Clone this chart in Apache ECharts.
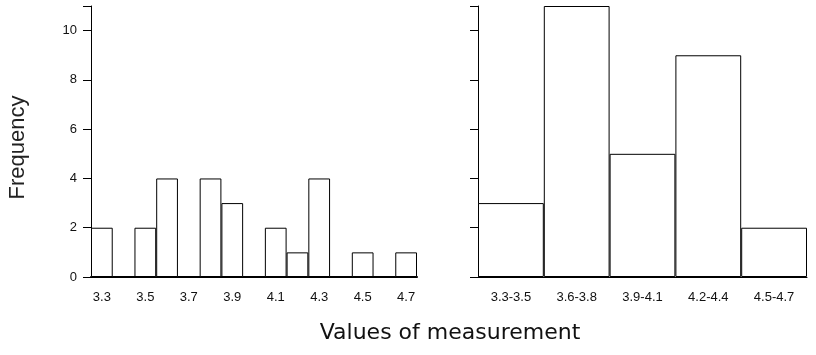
<!DOCTYPE html>
<html>
<head>
<meta charset="utf-8">
<script src="https://cdn.jsdelivr.net/npm/echarts@6/dist/echarts.min.js"></script>
<style>
  html, body { margin: 0; padding: 0; background: #fff; }
  #chart { width: 816px; height: 355px; }
</style>
</head>
<body>
<div id="chart"></div>
<script>
// single values, 3.3 .. 4.7
const fineCats = ['3.3', '3.4', '3.5', '3.6', '3.7', '3.8', '3.9', '4.0', '4.1', '4.2', '4.3', '4.4', '4.5', '4.6', '4.7'];
const fineFreq = [2, 0, 2, 4, 0, 4, 3, 0, 2, 1, 4, 0, 1, 0, 1];
// grouped classes
const groupCats = ['3.3-3.5', '3.6-3.8', '3.9-4.1', '4.2-4.4', '4.5-4.7'];
const groupFreq = [3, 11, 5, 9, 2];
const yTicks = [0, 2, 4, 6, 8, 10];

const chart = echarts.init(document.getElementById('chart'));

const labelFont = { color: '#111', fontSize: 13, fontFamily: 'Liberation Sans, Arial, sans-serif' };
const black = { color: '#000', width: 1 };

const barStyle = {
  color: '#fff',
  borderColor: '#000',
  borderWidth: 1
};

const option = {
  animation: false,
  backgroundColor: '#fff',
  grid: [
    { left: 91, top: 6, width: 326, height: 271 },
    { left: 478, top: 6, width: 329, height: 271 }
  ],
  xAxis: [
    {
      type: 'category',
      gridIndex: 0,
      data: fineCats,
      axisLine: { lineStyle: { color: '#000', width: 2 } },
      axisTick: { alignWithLabel: true, interval: 1, length: 6, lineStyle: black },
      axisLabel: Object.assign({ interval: 1, margin: 14 }, labelFont)
    },
    {
      type: 'category',
      gridIndex: 1,
      data: groupCats,
      axisLine: { lineStyle: black },
      axisTick: { show: false },
      axisLabel: Object.assign({ interval: 0, margin: 14 }, labelFont)
    }
  ],
  yAxis: [
    {
      type: 'value',
      gridIndex: 0,
      min: 0,
      max: 11,
      interval: 2,
      name: 'Frequency',
      nameLocation: 'middle',
      nameGap: 62,
      nameTextStyle: { color: '#222', fontSize: 22, fontFamily: 'Liberation Sans, Arial, sans-serif', fontWeight: 'lighter', padding: [0, 12, 0, 0] },
      splitLine: { show: false },
      axisLine: { show: true, lineStyle: black },
      axisTick: { show: true, length: 8, lineStyle: black },
      axisLabel: Object.assign({
        margin: 14,
        formatter: v => (yTicks.indexOf(v) >= 0 ? String(v) : '')
      }, labelFont)
    },
    {
      type: 'value',
      gridIndex: 1,
      min: 0,
      max: 11,
      interval: 2,
      splitLine: { show: false },
      axisLine: { show: true, lineStyle: black },
      axisTick: { show: true, length: 8, lineStyle: black },
      axisLabel: { show: false }
    }
  ],
  series: [
    {
      type: 'bar',
      xAxisIndex: 0,
      yAxisIndex: 0,
      data: fineFreq,
      barCategoryGap: 0,
      itemStyle: barStyle
    },
    {
      type: 'bar',
      xAxisIndex: 1,
      yAxisIndex: 1,
      data: groupFreq,
      barCategoryGap: 0,
      itemStyle: barStyle
    }
  ],
  graphic: [
    {
      type: 'text',
      x: 450,
      y: 333,
      style: {
        text: 'Values of measurement',
        fill: '#111',
        font: '22px "DejaVu Sans", sans-serif',
        align: 'center',
        verticalAlign: 'middle'
      }
    }
  ]
};

chart.setOption(option);
</script>
</body>
</html>
